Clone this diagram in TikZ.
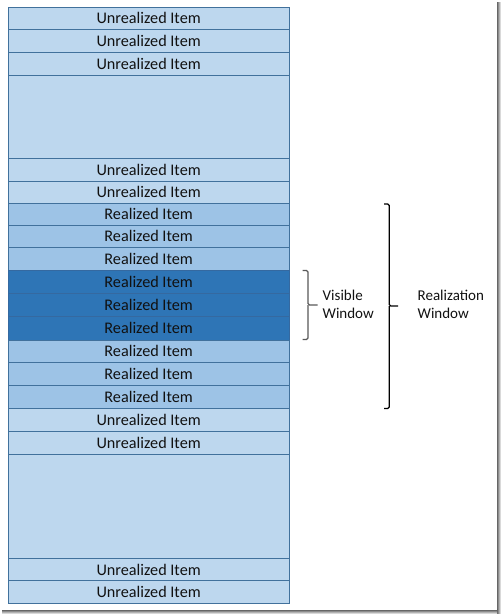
\documentclass[tikz,border=0pt]{standalone}
\usepackage{fontspec}
\setmainfont{Carlito}
\definecolor{unreal}{HTML}{BDD7EE}
\definecolor{real}{HTML}{9DC3E6}
\definecolor{vis}{HTML}{2E75B6}
\definecolor{bord}{HTML}{41719C}
\definecolor{visbord}{HTML}{3569A0}
\definecolor{txt}{HTML}{111111}
\definecolor{bracegray}{HTML}{595959}
\begin{document}
\begin{tikzpicture}[x=1pt,y=-1pt,
  row/.style={draw=bord, line width=1pt, anchor=north west, minimum width=281.3pt, inner sep=0pt, outer sep=0pt,
    font=\fontsize{16.2}{18}\selectfont, text=txt},
  unr/.style={row, fill=unreal},
  rea/.style={row, fill=real},
  visr/.style={row, fill=vis, draw=visbord},
  lbl/.style={font=\fontsize{15}{18}\selectfont, text=txt, align=left, anchor=west, inner sep=0pt},
  brace/.style={line width=1.2pt, rounded corners=1.5pt}]
\useasboundingbox (0,0) rectangle (501,616);
\fill[white] (0,0) rectangle (501,616);
% shadow
\shade[left color=black!75, right color=white] (496,2) rectangle (501,613);
\shade[top color=black!75, bottom color=white] (2,609) rectangle (497,614);
\fill[white] (0,0) rectangle (496.5,609.5);
% rows
\node[unr, minimum height=22.5pt] (r1) at (8,7) {Unrealized Item};
\node[unr, minimum height=22.8pt] (r2) at (8,29.5) {Unrealized Item};
\node[unr, minimum height=23pt] (r3) at (8,52.3) {Unrealized Item};
\node[unr, minimum height=83pt] (b1) at (8,75.3) {};
\node[unr, minimum height=23pt] (r4) at (8,158.3) {Unrealized Item};
\node[unr, minimum height=22pt] (r5) at (8,181.3) {Unrealized Item};
\node[rea, minimum height=21.7pt] (s1) at (8,203.3) {Realized Item};
\node[rea, minimum height=22.7pt] (s2) at (8,225) {Realized Item};
\node[rea, minimum height=22.6pt] (s3) at (8,247.7) {Realized Item};
\node[visr, minimum height=23pt] (v1) at (8,270.3) {Realized Item};
\node[visr, minimum height=23.2pt] (v2) at (8,293.3) {Realized Item};
\node[visr, minimum height=23.5pt] (v3) at (8,316.5) {Realized Item};
\node[rea, minimum height=22.7pt] (s4) at (8,340) {Realized Item};
\node[rea, minimum height=23pt] (s5) at (8,362.7) {Realized Item};
\node[rea, minimum height=22.6pt] (s6) at (8,385.7) {Realized Item};
\node[unr, minimum height=22.7pt] (r6) at (8,408.3) {Unrealized Item};
\node[unr, minimum height=23pt] (r7) at (8,431) {Unrealized Item};
\node[unr, minimum height=104.3pt] (b2) at (8,454) {};
\node[unr, minimum height=22.4pt] (r8) at (8,558.3) {Unrealized Item};
\node[unr, minimum height=22.6pt] (r9) at (8,580.7) {Unrealized Item};
% braces
\coordinate (vt) at (302.5,270.5);
\coordinate (vb) at (302.5,339.5);
\coordinate (vm) at (317.5,305);
\draw[brace, bracegray] (vt) -- (308,270.5) -- (308,305) -- (vm);
\draw[brace, bracegray] (vb) -- (308,339.5) -- (308,305);
\coordinate (rt) at (384,204);
\coordinate (rb) at (384,408.5);
\coordinate (rm) at (398,306);
\draw[brace, black] (rt) -- (389.3,204) -- (389.3,306) -- (rm);
\draw[brace, black] (rb) -- (389.3,408.5) -- (389.3,306);
% labels
\node[lbl] (vl) at (322.5,304) {Visible\\Window};
\node[lbl] (rl) at (417.5,304) {Realization\\Window};
\end{tikzpicture}
\end{document}
